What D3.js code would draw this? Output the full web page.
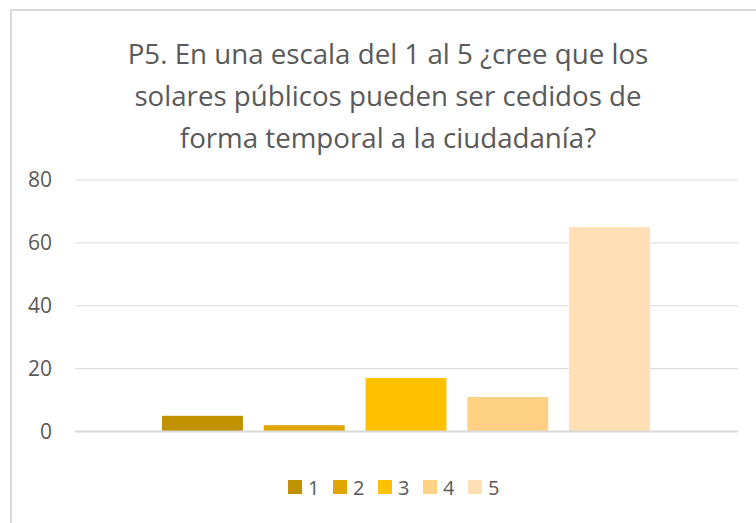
<!DOCTYPE html>
<html>
<head>
<meta charset="utf-8">
<script src="https://cdn.jsdelivr.net/npm/d3@7"></script>
<style>
  body { margin: 0; background: #fff; }
  text { font-family: "Open Sans", Lato, sans-serif; fill: #595959; }
</style>
</head>
<body>
<div id="chart"></div>
<script>
// data
const series = ["1", "2", "3", "4", "5"];
const values = [5, 2, 17, 11, 65];
const colors = ["#C09100", "#DFA600", "#FFC000", "#FFD185", "#FFDFB3"];
const yTicks = [0, 20, 40, 60, 80];
const titleLines = [
  "P5. En una escala del 1 al 5 ¿cree que los",
  "solares públicos pueden ser cedidos de",
  "forma temporal a la ciudadanía?"
];

const W = 756, H = 523;
const svg = d3.select("#chart").append("svg")
  .attr("width", W)
  .attr("height", H);

// chart area border
svg.append("rect")
  .attr("x", 11).attr("y", 10)
  .attr("width", 760).attr("height", 530)
  .attr("fill", "#fff")
  .attr("stroke", "#d9d9d9")
  .attr("stroke-width", 2);

// title
svg.append("text")
  .attr("text-anchor", "middle")
  .style("font-size", "27.7px")
  .selectAll("tspan")
  .data(titleLines)
  .join("tspan")
  .attr("x", 388)
  .attr("y", (d, i) => 64 + i * 42)
  .text(d => d);

const plot = { left: 75, right: 738, top: 180, bottom: 431.5 };

const y = d3.scaleLinear()
  .domain([0, 80])
  .range([plot.bottom, plot.top]);

const x = d3.scaleBand()
  .domain(series)
  .range([162, 650])
  .paddingInner(0.205)
  .paddingOuter(0);

// gridlines
svg.append("g")
  .selectAll("line")
  .data(yTicks.filter(d => d > 0))
  .join("line")
  .attr("x1", plot.left).attr("x2", plot.right)
  .attr("y1", d => y(d)).attr("y2", d => y(d))
  .attr("stroke", "#d9d9d9")
  .attr("stroke-width", 1);

// y axis labels
const yAxis = svg.append("g")
  .attr("transform", `translate(${plot.left},0)`)
  .call(d3.axisLeft(y).tickValues(yTicks).tickSize(0).tickPadding(23));
yAxis.select(".domain").remove();
yAxis.selectAll("text")
  .style("font-size", "21px")
  .style("font-family", "'Open Sans', Lato, sans-serif")
  .attr("fill", "#595959");

// bars
svg.append("g")
  .selectAll("rect")
  .data(values)
  .join("rect")
  .attr("x", (d, i) => x(series[i]))
  .attr("width", x.bandwidth())
  .attr("y", d => y(d))
  .attr("height", d => y(0) - y(d))
  .attr("fill", (d, i) => colors[i]);

// baseline
svg.append("line")
  .attr("x1", plot.left).attr("x2", plot.right)
  .attr("y1", y(0)).attr("y2", y(0))
  .attr("stroke", "#d9d9d9")
  .attr("stroke-width", 2);

// legend
const legend = svg.append("g")
  .selectAll("g")
  .data(series)
  .join("g")
  .attr("transform", (d, i) => `translate(${288 + i * 45},480)`);

legend.append("rect")
  .attr("width", 14).attr("height", 14)
  .attr("fill", (d, i) => colors[i]);

legend.append("text")
  .attr("x", 20)
  .attr("y", 14.5)
  .style("font-size", "20px")
  .text(d => d);
</script>
</body>
</html>
